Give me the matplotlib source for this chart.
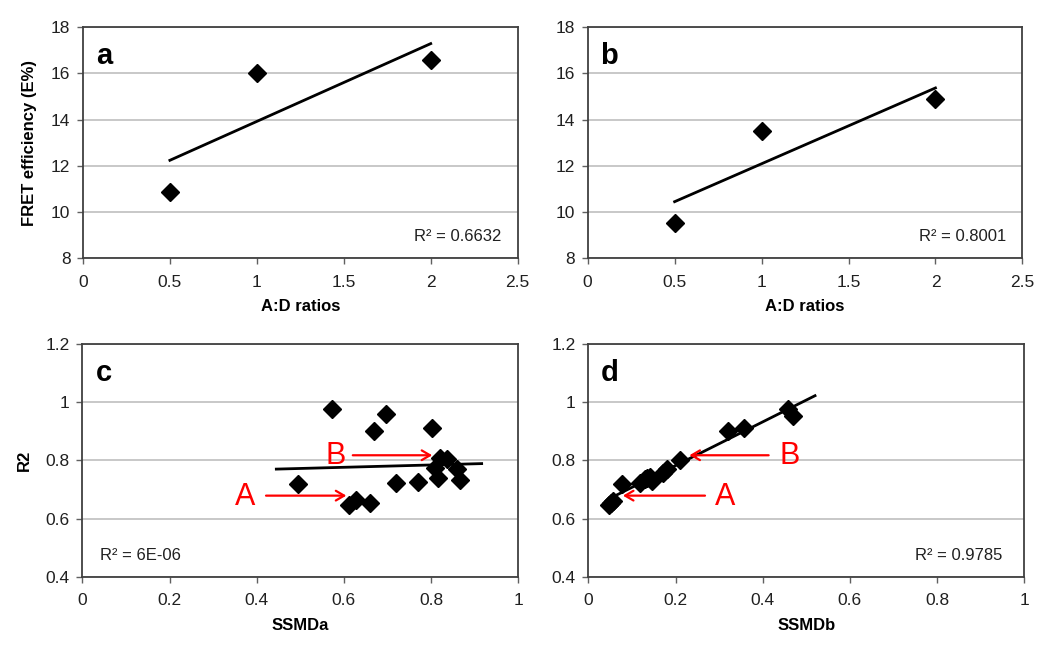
import numpy as np
import matplotlib
matplotlib.use('Agg')
import matplotlib.pyplot as plt
from matplotlib.ticker import FuncFormatter

plt.rcParams['font.family'] = ['Liberation Sans', 'DejaVu Sans']

# FRET panels (a, b)
ratios = [0.5, 1.0, 2.0]
fret_a = [10.85, 16.0, 16.6]
fret_b = [9.5, 13.5, 14.9]

# R2 vs SSMD panels (c, d)
r2_vals = [0.977, 0.959, 0.900, 0.913, 0.719, 0.647, 0.664, 0.652, 0.724,
           0.726, 0.807, 0.804, 0.773, 0.739, 0.770, 0.733]
ssmd_a = [0.573, 0.696, 0.669, 0.801, 0.495, 0.612, 0.628, 0.661, 0.719,
          0.769, 0.821, 0.836, 0.809, 0.817, 0.859, 0.866]
ssmd_b = [0.459, 0.470, 0.321, 0.358, 0.078, 0.047, 0.057, 0.052, 0.119,
          0.130, 0.210, 0.180, 0.172, 0.145, 0.141, 0.135]
r2_d = [0.977, 0.954, 0.900, 0.913, 0.719, 0.647, 0.662, 0.655, 0.724,
        0.735, 0.800, 0.770, 0.756, 0.730, 0.744, 0.740]


def fmt(v, pos):
    return '%g' % round(v, 2)


def style_ax(ax, xlim, ylim, xticks, yticks):
    ax.set_xlim(*xlim)
    ax.set_ylim(*ylim)
    ax.set_xticks(xticks)
    ax.set_yticks(yticks)
    ax.xaxis.set_major_formatter(FuncFormatter(fmt))
    ax.yaxis.set_major_formatter(FuncFormatter(fmt))
    ax.yaxis.grid(True, color='#c8c8c8', linewidth=1.4)
    ax.set_axisbelow(True)
    for s in ax.spines.values():
        s.set_color('#404040')
        s.set_linewidth(1.3)
    ax.tick_params(direction='out', length=4, width=1, color='#606060',
                   labelsize=12.5, labelcolor='#202020', pad=5)
    ax.tick_params(axis='x', pad=8)


def fit_line(ax, x, y, x0, x1):
    p = np.polyfit(x, y, 1)
    xx = np.array([x0, x1])
    ax.plot(xx, np.polyval(p, xx), color='black', lw=2, zorder=2)


fig = plt.figure(figsize=(10.5, 6.5), dpi=100)
ax_a = fig.add_axes([0.079, 0.603, 0.414, 0.355])
ax_b = fig.add_axes([0.5597, 0.603, 0.414, 0.355])
ax_c = fig.add_axes([0.0784, 0.1128, 0.4152, 0.3575])
ax_d = fig.add_axes([0.5603, 0.1128, 0.4152, 0.3575])

mk = dict(marker='D', ms=9, color='black', ls='none', zorder=3)

# panel a
style_ax(ax_a, (0, 2.5), (8, 18), np.arange(0, 2.51, 0.5), np.arange(8, 18.1, 2))
fit_line(ax_a, ratios, fret_a, 0.5, 2.0)
ax_a.plot(ratios, fret_a, **mk)
ax_a.text(0.962, 0.095, 'R² = 0.6632', transform=ax_a.transAxes, ha='right',
          va='center', fontsize=12, color='#202020')
ax_a.set_xlabel('A:D ratios', fontsize=12, fontweight='bold', labelpad=7)
ax_a.set_ylabel('FRET efficiency (E%)', fontsize=12, fontweight='bold', labelpad=10)
ax_a.text(0.05, 0.875, 'a', transform=ax_a.transAxes, fontsize=21,
          fontweight='bold', ha='center', va='center')

# panel b
style_ax(ax_b, (0, 2.5), (8, 18), np.arange(0, 2.51, 0.5), np.arange(8, 18.1, 2))
fit_line(ax_b, ratios, fret_b, 0.5, 2.0)
ax_b.plot(ratios, fret_b, **mk)
ax_b.text(0.962, 0.095, 'R² = 0.8001', transform=ax_b.transAxes, ha='right',
          va='center', fontsize=12, color='#202020')
ax_b.set_xlabel('A:D ratios', fontsize=12, fontweight='bold', labelpad=7)
ax_b.text(0.05, 0.875, 'b', transform=ax_b.transAxes, fontsize=21,
          fontweight='bold', ha='center', va='center')

mk2 = dict(marker='D', ms=9, color='black', ls='none', zorder=3)
red_arrow = dict(arrowstyle='->,head_length=0.6,head_width=0.35', color='red', lw=1.6)

# panel c
style_ax(ax_c, (0, 1), (0.4, 1.2), np.arange(0, 1.01, 0.2), np.arange(0.4, 1.21, 0.2))
fit_line(ax_c, ssmd_a, r2_vals, min(ssmd_a) - 0.05, max(ssmd_a) + 0.05)
ax_c.plot(ssmd_a, r2_vals, **mk2)
ax_c.text(0.04, 0.093, 'R² = 6E-06', transform=ax_c.transAxes, ha='left',
          va='center', fontsize=12, color='#202020')
ax_c.set_xlabel('SSMDa', fontsize=12, fontweight='bold', labelpad=7)
ax_c.set_ylabel('R2', fontsize=12, fontweight='bold', labelpad=10)
ax_c.text(0.05, 0.875, 'c', transform=ax_c.transAxes, fontsize=21,
          fontweight='bold', ha='center', va='center')
ax_c.annotate('', xy=(0.612, 0.679), xytext=(0.415, 0.679), arrowprops=red_arrow)
ax_c.text(0.373, 0.675, 'A', color='red', fontsize=22, ha='center', va='center')
ax_c.annotate('', xy=(0.809, 0.818), xytext=(0.614, 0.818), arrowprops=red_arrow)
ax_c.text(0.58, 0.815, 'B', color='red', fontsize=22, ha='center', va='center')

# panel d
style_ax(ax_d, (0, 1), (0.4, 1.2), np.arange(0, 1.01, 0.2), np.arange(0.4, 1.21, 0.2))
fit_line(ax_d, ssmd_b, r2_d, min(ssmd_b), max(ssmd_b) + 0.05)
ax_d.plot(ssmd_b, r2_d, **mk2)
ax_d.text(0.95, 0.093, 'R² = 0.9785', transform=ax_d.transAxes, ha='right',
          va='center', fontsize=12, color='#202020')
ax_d.set_xlabel('SSMDb', fontsize=12, fontweight='bold', labelpad=7)
ax_d.text(0.05, 0.875, 'd', transform=ax_d.transAxes, fontsize=21,
          fontweight='bold', ha='center', va='center')
ax_d.annotate('', xy=(0.073, 0.679), xytext=(0.274, 0.679), arrowprops=red_arrow)
ax_d.text(0.313, 0.675, 'A', color='red', fontsize=22, ha='center', va='center')
ax_d.annotate('', xy=(0.2255, 0.818), xytext=(0.42, 0.818), arrowprops=red_arrow)
ax_d.text(0.461, 0.815, 'B', color='red', fontsize=22, ha='center', va='center')

fig.savefig('out.png', dpi=100)
